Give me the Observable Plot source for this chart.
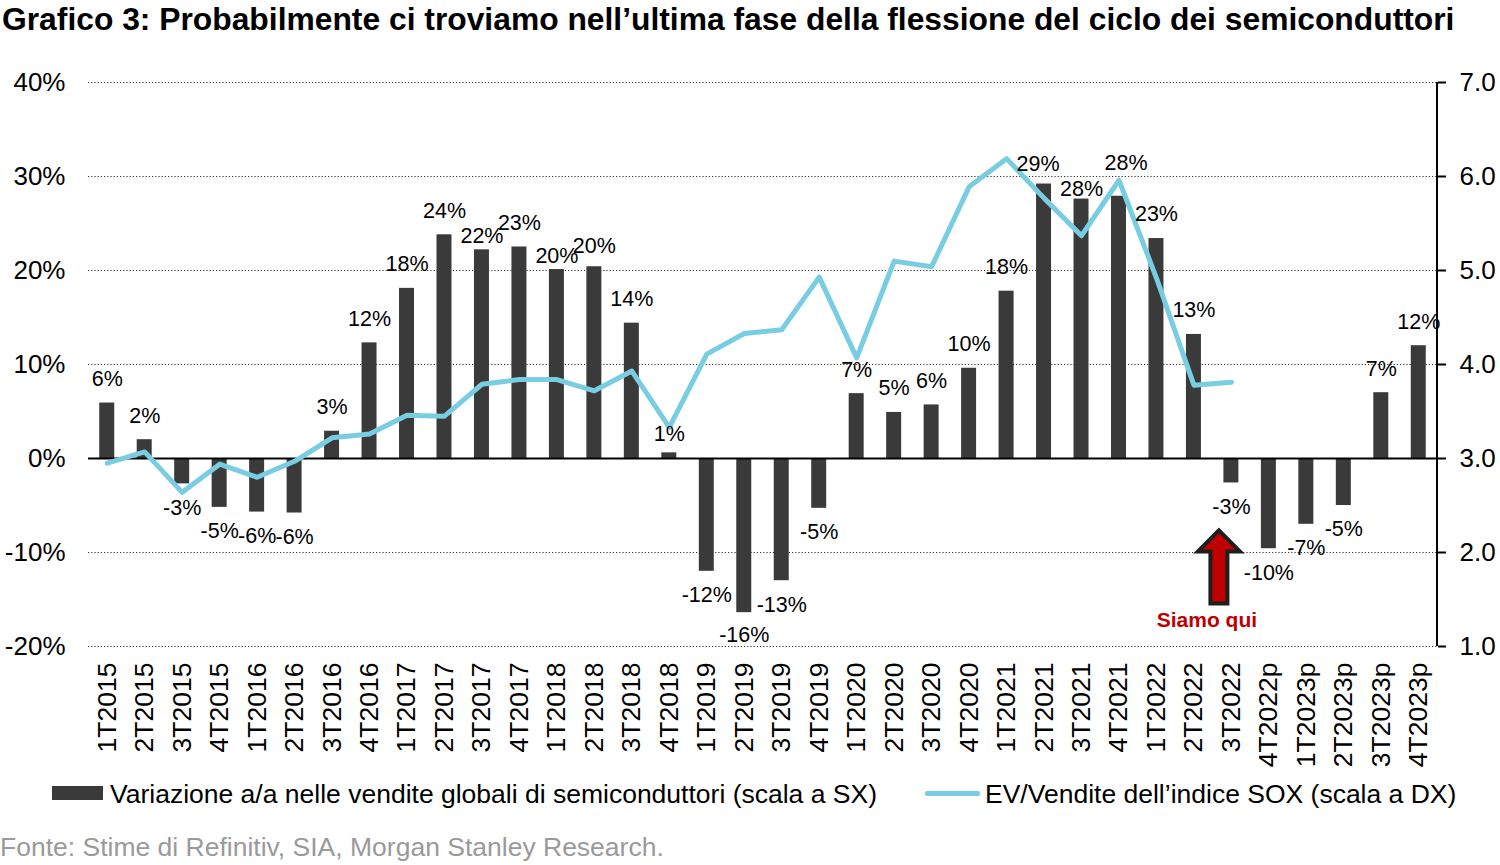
<!DOCTYPE html>
<html>
<head>
<meta charset="utf-8">
<script src="https://cdn.jsdelivr.net/npm/d3@7"></script>
<script src="https://cdn.jsdelivr.net/npm/@observablehq/plot@0.6"></script>
<style>
  body { margin: 0; background: #fff; font-family: "Liberation Sans", Arial, sans-serif; }
  #wrap { position: relative; width: 1500px; height: 865px; overflow: hidden; background: #fff; }
  #title { position: absolute; left: 2px; top: 4px; font-size: 31.8px; font-weight: bold; line-height: 1; white-space: nowrap; color: #000; }
  #chart { position: absolute; left: 0; top: 50px; }
  .legtxt { position: absolute; top: 781px; font-size: 26.5px; line-height: 1; white-space: nowrap; color: #000; }
  .swatch-bar { position: absolute; left: 52px; top: 786px; width: 51px; height: 14px; background: #393a39; }
  .swatch-line { position: absolute; left: 925px; top: 791px; width: 55px; height: 5px; background: #78cde2; border-radius: 2px; }
  #source { position: absolute; left: 0; top: 834px; font-size: 26.5px; line-height: 1; white-space: nowrap; color: #9a9a9a; }
</style>
</head>
<body>
<div id="wrap">
  <div id="title"></div>
  <div id="chart"></div>
  <div class="swatch-bar"></div>
  <div class="legtxt" id="leg1" style="left:110px"></div>
  <div class="swatch-line"></div>
  <div class="legtxt" id="leg2" style="left:985px"></div>
  <div id="source"></div>
</div>
<script>
// ---------------- DATA ----------------
const titleText = "Grafico 3: Probabilmente ci troviamo nell\u2019ultima fase della flessione del ciclo dei semiconduttori";
const barSeriesName = "Variazione a/a nelle vendite globali di semiconduttori (scala a SX)";
const lineSeriesName = "EV/Vendite dell\u2019indice SOX (scala a DX)";
const sourceText = "Fonte: Stime di Refinitiv, SIA, Morgan Stanley Research.";

const categories = ["1T2015","2T2015","3T2015","4T2015","1T2016","2T2016","3T2016","4T2016",
  "1T2017","2T2017","3T2017","4T2017","1T2018","2T2018","3T2018","4T2018",
  "1T2019","2T2019","3T2019","4T2019","1T2020","2T2020","3T2020","4T2020",
  "1T2021","2T2021","3T2021","4T2021","1T2022","2T2022","3T2022",
  "4T2022p","1T2023p","2T2023p","3T2023p","4T2023p"];

// y/y change in global semiconductor sales (%), left scale
const salesGrowth = [5.9, 2.0, -2.7, -5.2, -5.7, -5.8, 2.9, 12.3,
  18.1, 23.8, 22.2, 22.5, 20.1, 20.4, 14.4, 0.6,
  -12.0, -16.4, -13.0, -5.3, 6.9, 4.9, 5.7, 9.6,
  17.8, 29.2, 27.6, 27.9, 23.4, 13.2, -2.6,
  -9.6, -7.0, -5.0, 7.0, 12.0];

// EV/Sales of the SOX index, right scale (available up to 3T2022)
const evSales = [2.95, 3.07, 2.64, 2.94, 2.80, 2.97, 3.22, 3.26,
  3.46, 3.45, 3.79, 3.84, 3.84, 3.72, 3.93, 3.33,
  4.11, 4.33, 4.37, 4.93, 4.07, 5.10, 5.04, 5.89,
  6.19, 5.77, 5.37, 5.96, 4.92, 3.78, 3.81];

const leftTicks = [-20, -10, 0, 10, 20, 30, 40];     // %
const rightTicks = [1, 2, 3, 4, 5, 6, 7];            // EV/Sales
const hereCategory = "3T2022";
const hereText = "Siamo qui";

// ---------------- STYLE ----------------
const barColor = "#393a39";
const lineColor = "#78cde2";
const font = "'Liberation Sans', Arial, sans-serif";
// right scale value r maps onto left scale value (r - 3) * 10
const rightToLeft = r => (r - 3) * 10;
const leftToRight = v => v / 10 + 3;
// manual label nudges (px) as placed in the original
const labelNudge = {
  "3T2017": [0, 10], "1T2018": [0, 11], "2T2018": [0, 3.5], "4T2018": [0, 5],
  "2T2019": [0, -2], "2T2021": [-6, 4], "3T2021": [0, 14], "4T2021": [7, -9]
};

document.getElementById("title").textContent = titleText;
document.getElementById("leg1").textContent = barSeriesName;
document.getElementById("leg2").textContent = lineSeriesName;
document.getElementById("source").textContent = sourceText;

const bars = categories.map((c, i) => ({cat: c, v: salesGrowth[i], label: Math.round(salesGrowth[i]) + "%"}));
const lineData = evSales.map((r, i) => ({cat: categories[i], v: rightToLeft(r)}));

// group labels by their pixel offsets
const labelGroups = d3.group(bars, d => {
  const n = labelNudge[d.cat] || [0, 0];
  const base = d.v >= 0 ? -24 : 24;
  return `${n[0]},${base + n[1]}`;
});
const labelMarks = Array.from(labelGroups, ([key, rows]) => {
  const [dx, dy] = key.split(",").map(Number);
  return Plot.text(rows, {x: "cat", y: "v", text: "label", dx, dy, fontSize: 21.5, fill: "#000", lineAnchor: "middle", textAnchor: "middle"});
});

function rightAxisLine(index, scales, values, dims) {
  const y = scales.y;
  const xr = dims.width - dims.marginRight;
  const g = d3.create("svg:g");
  g.append("line").attr("x1", xr).attr("x2", xr)
    .attr("y1", y(leftTicks[leftTicks.length - 1])).attr("y2", y(leftTicks[0]))
    .attr("stroke", "#000").attr("stroke-width", 2);
  return g.node();
}

function hereArrow(index, scales) {
  const {x, y} = scales;
  const bw = typeof x.bandwidth === "function" ? x.bandwidth() : (x.bandwidth || 0);
  const i = categories.indexOf(hereCategory);
  const cx = x(hereCategory) + bw / 2 - 12;
  const tip = y(salesGrowth[i]) + 48;
  const g = d3.create("svg:g");
  const hw = 21, sw = 8.5, hh = 21, len = 73;
  g.append("path")
    .attr("d", `M${cx},${tip} L${cx + hw},${tip + hh} L${cx + sw},${tip + hh} L${cx + sw},${tip + len} L${cx - sw},${tip + len} L${cx - sw},${tip + hh} L${cx - hw},${tip + hh} Z`)
    .attr("fill", "#c00000").attr("stroke", "#1e1e1e").attr("stroke-width", 4).attr("stroke-linejoin", "miter");
  g.append("text").attr("x", cx - 12).attr("y", tip + 97)
    .attr("text-anchor", "middle").attr("font-size", 21).attr("font-weight", "bold")
    .attr("font-family", font).attr("fill", "#c00000").text(hereText);
  return g.node();
}

const chart = Plot.plot({
  width: 1500,
  height: 715,
  marginTop: 32,
  marginBottom: 119,
  marginLeft: 88,
  marginRight: 63,
  style: {fontFamily: font, fontSize: "26px", color: "#000", background: "transparent", overflow: "visible"},
  x: {type: "band", domain: categories, paddingInner: 0.6, paddingOuter: 0.3, round: false, label: null},
  y: {domain: [leftTicks[0], leftTicks[leftTicks.length - 1]], label: null},
  marks: [
    Plot.gridY(leftTicks.filter(d => d !== 0), {stroke: "#333", strokeOpacity: 1, strokeWidth: 1, strokeDasharray: "1.2,2"}),
    Plot.barY(bars, {x: "cat", y: "v", fill: barColor}),
    Plot.ruleY([0], {stroke: "#000", strokeWidth: 2}),
    Plot.line(lineData, {x: "cat", y: "v", stroke: lineColor, strokeWidth: 5, strokeLinejoin: "round"}),
    ...labelMarks,
    Plot.axisY(leftTicks, {anchor: "left", tickFormat: d => d + "%", tickSize: 0, tickPadding: 23, fontSize: 26}),
    Plot.axisY(rightTicks.map(rightToLeft), {anchor: "right", tickFormat: d => leftToRight(d).toFixed(1), tickSize: 8, tickPadding: 14, strokeWidth: 2, fontSize: 26}),
    Plot.axisX({tickRotate: -90, tickSize: 0, tickPadding: 16, fontSize: 26.5}),
    rightAxisLine,
    hereArrow
  ]
});
document.getElementById("chart").appendChild(chart);
</script>
</body>
</html>
